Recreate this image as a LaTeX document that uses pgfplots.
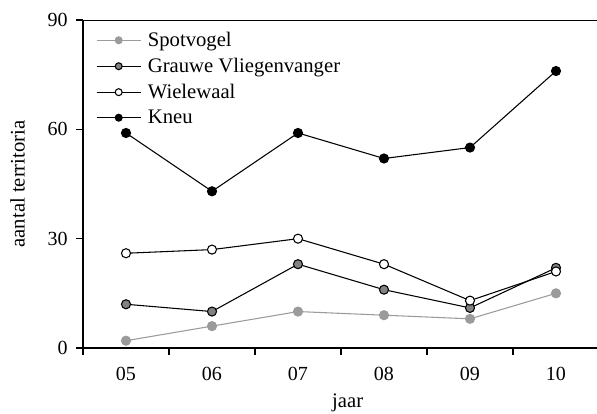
\documentclass[border=0pt]{standalone}
\usepackage{pgfplots}
\pgfplotsset{compat=1.18}
\usepackage{fontspec}
\setmainfont{Liberation Serif}
\definecolor{spotgray}{RGB}{155,155,155}
\definecolor{grauwgray}{RGB}{130,130,130}

\begin{document}
\begin{tikzpicture}
\useasboundingbox (-62.25pt,-49.5pt) rectangle (385.5pt,261pt);
\begin{axis}[
    scale only axis,
    width=387pt,
    height=246pt,
    xmin=0.5, xmax=6.5,
    ymin=0, ymax=90,
    axis x line=bottom,
    axis y line=left,
    axis line style={-, line width=1pt},
    xtick={0.5,1.5,...,6.5},
    xticklabels={05,06,07,08,09,10},
    x tick label as interval,
    ytick={0,30,60,90},
    tick align=outside,
    major tick length=5pt,
    tick style={line width=0.9pt, black},
    /pgf/number format/assume math mode=true,
    ticklabel style={font=\fontsize{15}{18}\selectfont},
    xticklabel style={yshift=-6pt},
    yticklabel style={xshift=-3pt},
    xlabel={jaar},
    ylabel={aantal territoria},
    xlabel style={at={(axis description cs:0.513,-0.14)}, anchor=north, inner sep=0pt},
    ylabel style={at={(axis description cs:-0.112,0.5)}, anchor=south, inner sep=0pt},
    label style={font=\fontsize{15.5}{18}\selectfont},
    legend cell align=left,
    legend style={draw=none, fill=none, inner sep=0pt,
        at={(axis description cs:0.025,0.972)}, anchor=north west,
        row sep=3.2pt,
        /tikz/every odd column/.append style={column sep=3pt},
        font=\fontsize{15.5}{18}\selectfont},
    legend image code/.code={
        \draw[mark repeat=2, mark phase=2, mark size=2.6pt] plot coordinates {(0pt,0pt) (16.5pt,0pt) (33pt,0pt)};
    },
    every axis plot/.append style={line width=0.8pt, mark=*, mark size=3.4pt},
]
\addplot[color=spotgray, mark options={fill=spotgray, draw=spotgray}] coordinates {
    (1,2) (2,6) (3,10) (4,9) (5,8) (6,15)
};
\addlegendentry{Spotvogel}
\addplot[color=black, mark options={fill=grauwgray, draw=black}] coordinates {
    (1,12) (2,10) (3,23) (4,16) (5,11) (6,22)
};
\addlegendentry{Grauwe Vliegenvanger}
\addplot[color=black, mark options={fill=white, draw=black}] coordinates {
    (1,26) (2,27) (3,30) (4,23) (5,13) (6,21)
};
\addlegendentry{Wielewaal}
\addplot[color=black, mark options={fill=black, draw=black}] coordinates {
    (1,59) (2,43) (3,59) (4,52) (5,55) (6,76)
};
\addlegendentry{Kneu}
\draw[line width=1pt] (rel axis cs:0,1) -- (rel axis cs:1,1);
\end{axis}
\end{tikzpicture}
\end{document}
